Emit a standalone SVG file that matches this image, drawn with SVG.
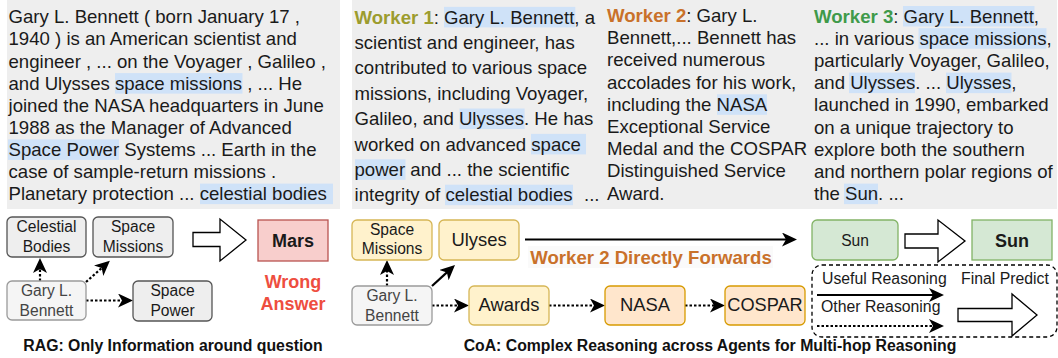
<svg xmlns="http://www.w3.org/2000/svg" width="1058" height="358" viewBox="0 0 1058 358">
<defs>
<style>
.t{font-family:"Liberation Sans",Arial,sans-serif;font-size:18.6px;fill:#1a1a1a}
.b{font-weight:bold}
.hl{fill:#cfe2f8}
.panel{fill:#eeeeee}
.n{font-family:"Liberation Sans",Arial,sans-serif;font-size:15.6px;fill:#1a1a1a;text-anchor:middle}
.nb{font-family:"Liberation Sans",Arial,sans-serif;font-size:18.4px;fill:#1a1a1a;text-anchor:middle}
.gray{fill:#eeeeee;stroke:#555;stroke-width:1.3}
.start{fill:#f5f5f5;stroke:#9a9a9a;stroke-width:1.3}
.yel{fill:#fff2cc;stroke:#d6b656;stroke-width:1.3}
.ora{fill:#ffe6cc;stroke:#d79b00;stroke-width:1.3}
.grn{fill:#d5e8d4;stroke:#82b366;stroke-width:1.3}
.red{fill:#f8cecc;stroke:#b85450;stroke-width:1.3}
.dot{stroke:#000;stroke-width:2.2;stroke-dasharray:2.5 2;fill:none}
.sol{stroke:#000;stroke-width:2.2;fill:none}
.block{fill:#fff;stroke:#000;stroke-width:1.3}
.cap{font-family:"Liberation Sans",Arial,sans-serif;font-size:15.8px;font-weight:bold;fill:#111;text-anchor:middle}
.w1{fill:#9c9c2e;font-weight:bold}
.w2{fill:#c9712a;font-weight:bold}
.w3{fill:#3f9a4a;font-weight:bold}
.lg{font-family:"Liberation Sans",Arial,sans-serif;font-size:15.8px;fill:#1a1a1a}
</style>
<marker id="ah" viewBox="0 0 15 14" markerWidth="15" markerHeight="14" refX="7" refY="7" orient="auto" markerUnits="userSpaceOnUse">
<path d="M0,0 L15,7 L0,14 L4,7 z" fill="#000"/>
</marker>
</defs>

<!-- RAG text panel -->
<g id="rag-text">
<rect class="panel" x="7" y="0" width="333" height="209"/>
<rect class="hl" x="115" y="73.1" width="127.5" height="20.5"/>
<rect class="hl" x="8" y="139.4" width="111" height="20.5"/>
<rect class="hl" x="200" y="183.6" width="133" height="20.5"/>
<text class="t" x="8.5" y="23.3">Gary L. Bennett ( born January 17 ,</text>
<text class="t" x="8.5" y="45.4">1940 ) is an American scientist and</text>
<text class="t" x="8.5" y="67.5">engineer , ... on the Voyager , Galileo ,</text>
<text class="t" x="8.5" y="89.6">and Ulysses space missions , ... He</text>
<text class="t" x="8.5" y="111.7">joined the NASA headquarters in June</text>
<text class="t" x="8.5" y="133.8">1988 as the Manager of Advanced</text>
<text class="t" x="8.5" y="155.9">Space Power Systems ... Earth in the</text>
<text class="t" x="8.5" y="178">case of sample-return missions .</text>
<text class="t" x="8.5" y="200.1">Planetary protection ... celestial bodies</text>
</g>

<!-- CoA worker texts panel -->
<g id="coa-text">
<rect class="panel" x="352" y="0" width="705" height="209"/>
<rect class="hl" x="444" y="6.9" width="131.3" height="20.5"/>
<rect class="hl" x="459.5" y="108.5" width="65.1" height="20.5"/>
<rect class="hl" x="531" y="133.9" width="55" height="20.5"/>
<rect class="hl" x="355" y="159.3" width="50.5" height="20.5"/>
<rect class="hl" x="445" y="184.7" width="128" height="20.5"/>
<text class="t" x="354.5" y="23.5"><tspan class="w1">Worker 1</tspan>: Gary L. Bennett, a</text>
<text class="t" x="354.5" y="48.9">scientist and engineer, has</text>
<text class="t" x="354.5" y="74.3">contributed to various space</text>
<text class="t" x="354.5" y="99.7">missions, including Voyager,</text>
<text class="t" x="354.5" y="125.1">Galileo, and Ulysses. He has</text>
<text class="t" x="354.5" y="150.5">worked on advanced space</text>
<text class="t" x="354.5" y="175.9">power and ... the scientific</text>
<text class="t" x="354.5" y="201.3">integrity of celestial bodies<tspan x="584">...</tspan></text>

<rect class="hl" x="717" y="94.3" width="50" height="20.5"/>
<text class="t" x="607" y="22"><tspan class="w2">Worker 2</tspan>: Gary L.</text>
<text class="t" x="607" y="44.2">Bennett,... Bennett has</text>
<text class="t" x="607" y="66.4">received numerous</text>
<text class="t" x="607" y="88.6">accolades for his work,</text>
<text class="t" x="607" y="110.8">including the NASA</text>
<text class="t" x="607" y="133">Exceptional Service</text>
<text class="t" x="607" y="155.2">Medal and the COSPAR</text>
<text class="t" x="607" y="177.4">Distinguished Service</text>
<text class="t" x="607" y="199.6">Award.</text>

<rect class="hl" x="903" y="6" width="131.5" height="20.5"/>
<rect class="hl" x="918.5" y="28.2" width="128" height="20.5"/>
<rect class="hl" x="849" y="72.6" width="66" height="20.5"/>
<rect class="hl" x="946" y="72.6" width="65.5" height="20.5"/>
<rect class="hl" x="844" y="183.6" width="34" height="20.5"/>
<text class="t" x="814" y="22.5"><tspan class="w3">Worker 3</tspan>: Gary L. Bennett,</text>
<text class="t" x="814" y="44.7">... in various space missions,</text>
<text class="t" x="814" y="66.9">particularly Voyager, Galileo,</text>
<text class="t" x="814" y="89.1">and Ulysses. ... Ulysses,</text>
<text class="t" x="814" y="111.3">launched in 1990, embarked</text>
<text class="t" x="814" y="133.5">on a unique trajectory to</text>
<text class="t" x="814" y="155.7">explore both the southern</text>
<text class="t" x="814" y="177.9">and northern polar regions of</text>
<text class="t" x="814" y="200.1">the Sun. ...</text>
</g>

<!-- connectors -->
<g id="connectors">
<line class="dot" x1="40" y1="281" x2="40" y2="266" marker-end="url(#ah)"/>
<line class="dot" x1="86" y1="282" x2="103.9" y2="266.1" marker-end="url(#ah)"/>
<line class="dot" x1="86" y1="300.5" x2="125" y2="300.5" marker-end="url(#ah)"/>
<polygon class="block" points="193,232.5 220,232.5 220,219 246,240 220,261 220,246.5 193,246.5"/>

<line class="dot" x1="387" y1="286" x2="387" y2="268" marker-end="url(#ah)"/>
<line class="sol" x1="432" y1="286" x2="449.1" y2="270.4" marker-end="url(#ah)"/>
<line class="dot" x1="432" y1="305.5" x2="461" y2="305.5" marker-end="url(#ah)"/>
<line class="dot" x1="549" y1="305.5" x2="597" y2="305.5" marker-end="url(#ah)"/>
<line class="dot" x1="685" y1="305.5" x2="717" y2="305.5" marker-end="url(#ah)"/>
<line class="sol" x1="525" y1="239.5" x2="789" y2="239.5" marker-end="url(#ah)"/>
<polygon class="block" points="905,234 938,234 938,220 965,241 938,262 938,248 905,248"/>
</g>

<!-- RAG nodes -->
<g id="rag-celestial">
<rect class="gray" x="7" y="217" width="79" height="40" rx="5"/>
<text class="n" x="46.5" y="232.3">Celestial</text>
<text class="n" x="46.5" y="251.7">Bodies</text>
</g>
<g id="rag-space-missions">
<rect class="gray" x="93" y="217" width="80" height="40" rx="5"/>
<text class="n" x="133" y="232.3">Space</text>
<text class="n" x="133" y="251.7">Missions</text>
</g>
<g id="rag-gary">
<rect class="start" x="7" y="281" width="79" height="39" rx="5"/>
<text class="n" x="46.5" y="296" style="fill:#444">Gary L.</text>
<text class="n" x="46.5" y="315.5" style="fill:#444">Bennett</text>
</g>
<g id="rag-space-power">
<rect class="gray" x="133" y="281" width="79" height="40" rx="5"/>
<text class="n" x="172.5" y="296.3">Space</text>
<text class="n" x="172.5" y="315.7">Power</text>
</g>
<g id="rag-mars">
<rect class="red" x="258" y="220" width="70" height="41"/>
<text class="nb" x="293" y="246.5" style="font-weight:bold;font-size:18px">Mars</text>
</g>
<g id="rag-wrong">
<text class="nb" x="293" y="288.3" style="font-weight:bold;font-size:18px;fill:#ee4e3f">Wrong</text>
<text class="nb" x="293" y="310" style="font-weight:bold;font-size:18px;fill:#ee4e3f">Answer</text>
</g>
<text class="cap" x="173" y="351">RAG: Only Information around question</text>

<!-- CoA nodes -->
<g id="coa-space-missions">
<rect class="yel" x="352" y="220" width="80" height="40" rx="5"/>
<text class="n" x="392" y="235">Space</text>
<text class="n" x="392" y="254.3">Missions</text>
</g>
<g id="coa-ulyses">
<rect class="yel" x="439" y="220" width="80" height="40" rx="5"/>
<text class="nb" x="479" y="246.3">Ulyses</text>
</g>
<g id="coa-gary">
<rect class="start" x="352" y="286" width="80" height="39" rx="5"/>
<text class="n" x="392" y="301" style="fill:#444">Gary L.</text>
<text class="n" x="392" y="320.5" style="fill:#444">Bennett</text>
</g>
<g id="coa-awards">
<rect class="yel" x="469" y="286" width="80" height="39" rx="5"/>
<text class="nb" x="509" y="311">Awards</text>
</g>
<g id="coa-nasa">
<rect class="ora" x="605" y="286" width="80" height="39" rx="5"/>
<text class="nb" x="645" y="311">NASA</text>
</g>
<g id="coa-cospar">
<rect class="ora" x="725" y="286" width="80" height="39" rx="5"/>
<text class="nb" x="765" y="311" style="font-size:18.2px">COSPAR</text>
</g>
<g id="coa-forward-label">
<rect x="528" y="246" width="245" height="22" fill="#fafafa"/>
<text class="nb" x="651" y="263.5" style="font-weight:bold;font-size:18.6px;fill:#c9712a">Worker 2 Directly Forwards</text>
</g>
<g id="coa-sun">
<rect class="grn" x="812" y="220" width="86" height="40" rx="5"/>
<text class="n" x="855" y="245.5">Sun</text>
</g>
<g id="coa-answer">
<rect class="grn" x="972" y="220" width="80" height="40"/>
<text class="nb" x="1012" y="246.5" style="font-weight:bold;font-size:18px">Sun</text>
</g>
<g id="legend">
<rect x="812" y="265" width="245" height="72" rx="10" fill="none" stroke="#000" stroke-width="1.3" stroke-dasharray="4 3"/>
<text class="lg" x="822" y="284">Useful Reasoning</text>
<text class="lg" x="961" y="284">Final Predict</text>
<line class="sol" x1="817" y1="295" x2="936" y2="295" marker-end="url(#ah)"/>
<text class="lg" x="821" y="311.7">Other Reasoning</text>
<line class="dot" x1="817" y1="326" x2="936" y2="326" marker-end="url(#ah)"/>
<polygon class="block" points="958,308.5 1012,308.5 1012,294 1037,315 1012,336 1012,321.5 958,321.5"/>
</g>
<text class="cap" x="710" y="351">CoA: Complex Reasoning across Agents for Multi-hop Reasoning</text>
</svg>
